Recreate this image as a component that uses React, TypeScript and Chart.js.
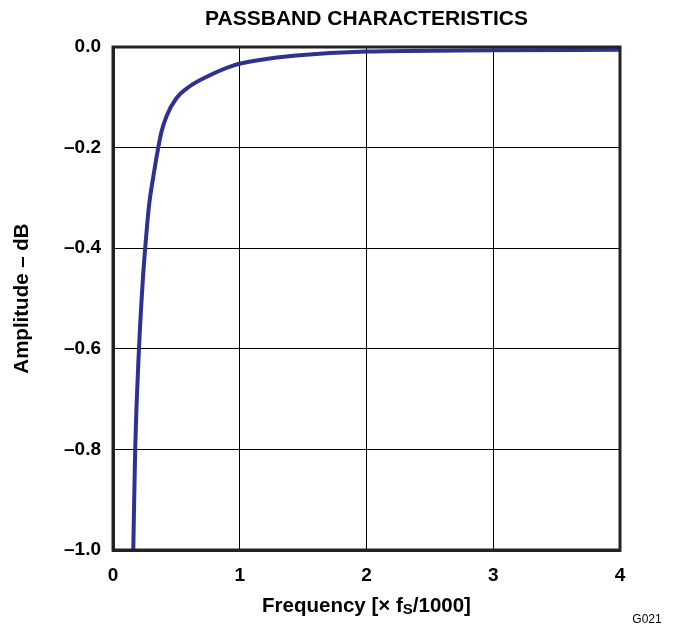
import React, { useEffect, useRef } from "react";
import { Chart, registerables } from "chart.js";

Chart.register(...registerables);

const freq = [0.16, 0.175, 0.205, 0.235, 0.253, 0.283, 0.323, 0.357, 0.383, 0.423, 0.5, 0.6, 0.74, 0.947, 1.157, 1.446, 2.0, 3.0, 4.0];
const amplitude = [-1.0, -0.8, -0.6, -0.464, -0.403, -0.318, -0.25, -0.2, -0.168, -0.137, -0.102, -0.079, -0.059, -0.037, -0.026, -0.017, -0.009, -0.0065, -0.0055];
const xTicks = [0, 1, 2, 3, 4];
const yTicks = [0, -0.2, -0.4, -0.6, -0.8, -1.0];

const FONT = '"Liberation Sans", Arial, sans-serif';

const textPlugin = {
  id: "texts",
  afterDraw(chart: any) {
    const ctx = chart.ctx;
    const a = chart.chartArea;
    const cx = (a.left + a.right) / 2;
    ctx.save();
    ctx.fillStyle = "#000";
    ctx.textBaseline = "middle";
    // title
    ctx.font = `bold 21px ${FONT}`;
    ctx.textAlign = "center";
    ctx.fillText("PASSBAND CHARACTERISTICS", cx, 19);
    // x title with subscript
    const p1 = "Frequency [× f";
    const p2 = "S";
    const p3 = "/1000]";
    ctx.font = `bold 20.5px ${FONT}`;
    const w1 = ctx.measureText(p1).width;
    const w3 = ctx.measureText(p3).width;
    ctx.font = `bold 15px ${FONT}`;
    const w2 = ctx.measureText(p2).width;
    let x = cx - (w1 + w2 + w3) / 2;
    const y = 606;
    ctx.textAlign = "left";
    ctx.font = `bold 20.5px ${FONT}`;
    ctx.fillText(p1, x, y);
    x += w1;
    ctx.font = `bold 15px ${FONT}`;
    ctx.fillText(p2, x, y + 4);
    x += w2;
    ctx.font = `bold 20.5px ${FONT}`;
    ctx.fillText(p3, x, y);
    // y title
    ctx.save();
    ctx.translate(22, (a.top + a.bottom) / 2);
    ctx.rotate(-Math.PI / 2);
    ctx.textAlign = "center";
    ctx.font = `bold 20.5px ${FONT}`;
    ctx.fillText("Amplitude – dB", 0, 0);
    ctx.restore();
    // code
    ctx.font = `12px ${FONT}`;
    ctx.textAlign = "center";
    ctx.fillText("G021", 647, 620);
    ctx.restore();
  },
};

export default function App() {
  const ref = useRef<HTMLCanvasElement>(null);
  useEffect(() => {
    document.body.style.margin = "0";
    const chart = new Chart(ref.current!, {
      type: "line",
      data: {
        datasets: [
          {
            data: freq.map((f, i) => ({ x: f, y: amplitude[i] })),
            borderColor: "#2E3192",
            borderWidth: 4,
            pointRadius: 0,
            cubicInterpolationMode: "monotone",
            fill: false,
          },
        ],
      },
      options: {
        animation: false,
        responsive: false,
        devicePixelRatio: 1,
        layout: { padding: { left: 0, right: 54, top: 47, bottom: 0 } },
        plugins: { legend: { display: false }, title: { display: false }, tooltip: { enabled: false } },
        scales: {
          x: {
            type: "linear",
            min: 0,
            max: 4,
            afterBuildTicks: (s: any) => {
              s.ticks = xTicks.map((v) => ({ value: v }));
            },
            afterFit: (s: any) => {
              s.height = 76;
            },
            grid: { color: "#000", lineWidth: 1, drawTicks: false },
            border: { color: "#222", width: 3 },
            ticks: {
              color: "#000",
              font: { family: FONT, size: 19, weight: "bold" },
              padding: 14,
              callback: (v: any) => String(v),
            },
          },
          y: {
            type: "linear",
            min: -1,
            max: 0,
            afterBuildTicks: (s: any) => {
              s.ticks = yTicks.map((v) => ({ value: v }));
            },
            afterFit: (s: any) => {
              s.width = 113;
            },
            grid: { color: "#000", lineWidth: 1, drawTicks: false },
            border: { color: "#222", width: 3 },
            ticks: {
              color: "#000",
              font: { family: FONT, size: 19, weight: "bold" },
              padding: 12,
              callback: (v: any) => (Math.abs(v) < 1e-9 ? "0.0" : "–" + Math.abs(v).toFixed(1)),
            },
          },
        },
      },
      plugins: [
        textPlugin,
        {
          id: "frame",
          afterDatasetsDraw(chart: any) {
            const c = chart.ctx;
            const a = chart.chartArea;
            c.save();
            c.strokeStyle = "#222";
            c.lineWidth = 3;
            c.strokeRect(a.left, a.top, a.right - a.left, a.bottom - a.top);
            c.restore();
          },
        },
      ],
    } as any);
    return () => chart.destroy();
  }, []);
  return <canvas ref={ref} width={674} height={626} style={{ display: "block" }} />;
}
